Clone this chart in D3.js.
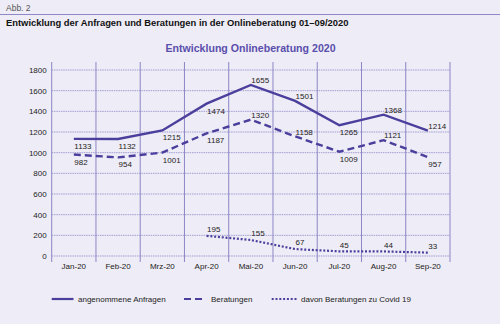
<!DOCTYPE html>
<html><head><meta charset="utf-8">
<script src="https://cdn.jsdelivr.net/npm/d3@7"></script>
<style>
html,body{margin:0;padding:0;background:#eeecf6;}
svg{display:block;font-family:"Liberation Sans",Arial,sans-serif;}
</style></head>
<body>
<svg id="c" width="500" height="324"></svg>
<script>
const months = ["Jan-20","Feb-20","Mrz-20","Apr-20","Mai-20","Jun-20","Jul-20","Aug-20","Sep-20"];
const anfragen = [1133,1132,1215,1474,1655,1501,1265,1368,1214];
const beratungen = [982,954,1001,1187,1320,1158,1009,1121,957];
const covid = [null,null,null,195,155,67,45,44,33];
const yTicks = [0,200,400,600,800,1000,1200,1400,1600,1800];
const seriesNames = ["angenommene Anfragen","Beratungen","davon Beratungen zu Covid 19"];
// label placement: a = above, b = below
const anfragenPlace = ["b","b","b","b","a","a","b","a","a"];
const beratungenPlace = ["b","b","b","b","a","a","b","a","b"];
const covidPlace = ["a","a","a","a","a","a","a","a","a"];

const svg = d3.select("#c");
const lineCol = "#4a3f9c", gridCol = "#a29ed3";
svg.append("rect").attr("width",500).attr("height",324).attr("fill","#eeecf6");

svg.append("text").attr("x",6).attr("y",11).attr("font-size",8.5).attr("fill","#555").text("Abb. 2");
svg.append("line").attr("x1",0).attr("x2",500).attr("y1",14.5).attr("y2",14.5).attr("stroke","#8f88c8").attr("stroke-width",1);
svg.append("text").attr("x",6).attr("y",25.5).attr("font-size",9.4).attr("font-weight","bold").attr("fill","#111")
  .text("Entwicklung der Anfragen und Beratungen in der Onlineberatung 01–09/2020");
svg.append("text").attr("x",250.5).attr("y",52).attr("text-anchor","middle").attr("font-size",10.6).attr("font-weight","bold").attr("fill","#5a4fac")
  .text("Entwicklung Onlineberatung 2020");

const x = d3.scaleBand().domain(months).range([51.7,450]);
const y = d3.scaleLinear().domain([0,1800]).range([256,70]);
const xc = m => x(m) + x.bandwidth()/2;

const g = svg.append("g");
g.selectAll(".hg").data(yTicks).join("line")
  .attr("x1",51.7).attr("x2",450).attr("y1",d=>y(d)).attr("y2",d=>y(d))
  .attr("stroke",gridCol).attr("stroke-width",1).attr("stroke-dasharray","1.5,0.8");
const edges = months.map(m=>x(m)).concat([x.range()[1]]);
g.selectAll(".vg").data(edges).join("line")
  .attr("x1",d=>d).attr("x2",d=>d).attr("y1",62).attr("y2",262)
  .attr("stroke","#8c86c6").attr("stroke-width",1);

const yAxis = d3.axisLeft(y).tickValues(yTicks).tickFormat(d3.format("d")).tickSize(0).tickPadding(5);
const ya = svg.append("g").attr("transform","translate(51.7,0)").call(yAxis);
ya.select(".domain").remove();
ya.selectAll("text").attr("font-size",8).attr("fill","#222").attr("font-family","Liberation Sans, Arial, sans-serif");

const xAxis = d3.axisBottom(x).tickSize(0).tickPadding(0);
const xa = svg.append("g").attr("transform","translate(0,262)").call(xAxis);
xa.select(".domain").remove();
xa.selectAll("text").attr("font-size",8).attr("fill","#222").attr("dy","0.9em").attr("font-family","Liberation Sans, Arial, sans-serif");

const line = d3.line().defined(d=>d.v!=null).x(d=>xc(d.m)).y(d=>y(d.v));
const toPts = arr => arr.map((v,i)=>({m:months[i],v}));
const series = [
  {vals:anfragen, dash:null, w:2.4, place:anfragenPlace, up:-1.8, down:10},
  {vals:beratungen, dash:"7,4", w:2.4, place:beratungenPlace, up:-1.8, down:10},
  {vals:covid, dash:"2,1.8", w:2.2, place:covidPlace, up:-3.8, down:10}
];
series.forEach(s=>{
  svg.append("path").datum(toPts(s.vals)).attr("d",line).attr("fill","none")
    .attr("stroke",lineCol).attr("stroke-width",s.w).attr("stroke-dasharray",s.dash);
});
series.forEach(s=>{
  svg.append("g").selectAll("text").data(toPts(s.vals).filter(d=>d.v!=null)).join("text")
    .attr("x",d=>xc(d.m)+0.5)
    .attr("y",d=>{const idx=months.indexOf(d.m);return y(d.v)+(s.place[idx]==="a"?s.up:s.down);})
    .attr("font-size",8).attr("fill","#222").text(d=>d.v);
});

const leg = [[51.7,73.5,78,null],[184,206,211,"7,4"],[271.7,297,301,"2,1.8"]];
leg.forEach((l,i)=>{
  svg.append("line").attr("x1",l[0]).attr("x2",l[1]).attr("y1",299).attr("y2",299)
    .attr("stroke",lineCol).attr("stroke-width",2.2).attr("stroke-dasharray",l[3]);
  svg.append("text").attr("x",l[2]).attr("y",302).attr("font-size",8).attr("fill","#222").text(seriesNames[i]);
});
</script>
</body></html>
